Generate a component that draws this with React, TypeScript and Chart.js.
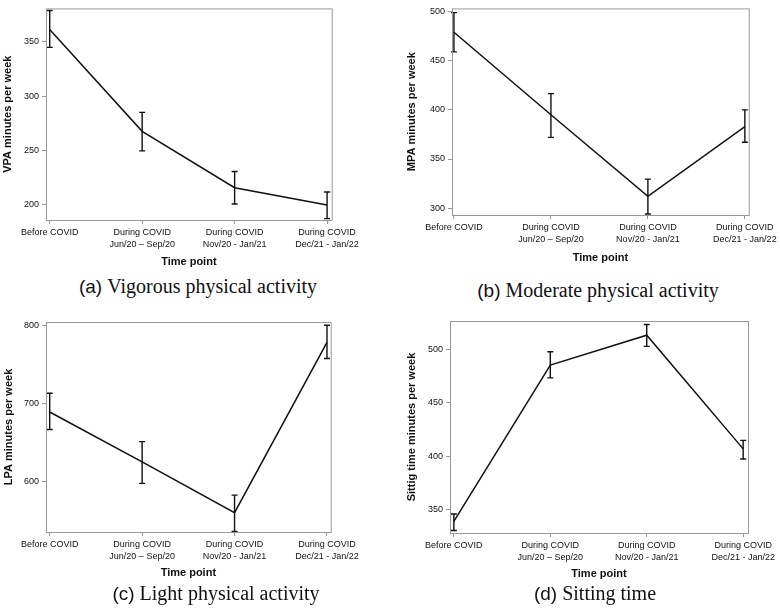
import { useEffect, useRef } from "react";
import { Chart, registerables, type ChartConfiguration, type Plugin } from "chart.js";

Chart.register(...registerables);

const timeLabels: string[][] = [
  ["Before COVID"],
  ["During COVID", "Jun/20 – Sep/20"],
  ["During COVID", "Nov/20 - Jan/21"],
  ["During COVID", "Dec/21 - Jan/22"],
];

const vpaMean = [361.5, 267.5, 215.5, 199.5];
const vpaLow = [345, 249.5, 200.5, 187];
const vpaHigh = [379, 285, 230.5, 211.5];
const vpaTicks = [200, 250, 300, 350];

const mpaMean = [479, 395, 312, 383];
const mpaLow = [459, 372, 294, 367];
const mpaHigh = [499, 416.5, 329.5, 400];
const mpaTicks = [300, 350, 400, 450, 500];

const lpaMean = [689.5, 625.5, 560.5, 778.5];
const lpaLow = [667, 598, 536.5, 758];
const lpaHigh = [713.5, 651.5, 583, 800.5];
const lpaTicks = [600, 700, 800];

const sitMean = [339, 485.5, 513.5, 407];
const sitLow = [330.5, 473.5, 503, 397.5];
const sitHigh = [346, 498, 523.5, 415];
const sitTicks = [350, 400, 450, 500];

type Box = { left: number; top: number; w: number; h: number };
type Frame = { l: number; t: number; r: number; b: number };

// draws the vertical CI bars with small caps
function errorBarPlugin(low: number[], high: number[]): Plugin {
  return {
    id: "errorBars",
    afterDatasetsDraw(chart) {
      const { ctx } = chart;
      const xs = chart.scales.x;
      const ys = chart.scales.y;
      ctx.save();
      ctx.strokeStyle = "#111";
      ctx.lineWidth = 1.4;
      low.forEach((lo, i) => {
        const x = xs.getPixelForValue(i);
        const y1 = ys.getPixelForValue(lo);
        const y2 = ys.getPixelForValue(high[i]);
        ctx.beginPath();
        ctx.moveTo(x, y1);
        ctx.lineTo(x, y2);
        ctx.moveTo(x - 3, y1);
        ctx.lineTo(x + 3, y1);
        ctx.moveTo(x - 3, y2);
        ctx.lineTo(x + 3, y2);
        ctx.stroke();
      });
      ctx.restore();
    },
  };
}

const framePlugin: Plugin = {
  id: "frame",
  afterDraw(chart) {
    const { ctx, chartArea: a } = chart;
    ctx.save();
    ctx.strokeStyle = "#999";
    ctx.lineWidth = 1;
    ctx.strokeRect(a.left + 0.5, a.top + 0.5, a.right - a.left, a.bottom - a.top);
    ctx.restore();
  },
};

function Panel({
  box,
  frame,
  xPad,
  yRange,
  yTicks,
  yTitle,
  mean,
  low,
  high,
}: {
  box: Box;
  frame: Frame;
  xPad: [number, number];
  yRange: [number, number];
  yTicks: number[];
  yTitle: string;
  mean: number[];
  low: number[];
  high: number[];
}) {
  const ref = useRef<HTMLCanvasElement>(null);

  useEffect(() => {
    const canvas = ref.current;
    if (!canvas) return;
    const tickFont = { family: "'Liberation Sans', Arial, sans-serif", size: 9 };
    const titleFont = { family: "'Liberation Sans', Arial, sans-serif", size: 11, weight: "bold" as const };
    const config: ChartConfiguration = {
      type: "line",
      data: {
        datasets: [
          {
            data: mean.map((y, i) => ({ x: i, y })),
            borderColor: "#111",
            borderWidth: 1.5,
            pointRadius: 0,
            tension: 0,
            fill: false,
          },
        ],
      },
      options: {
        responsive: false,
        animation: false,
        layout: {
          padding: {
            left: 0,
            top: frame.t - box.top,
            right: box.left + box.w - frame.r,
            bottom: 0,
          },
        },
        plugins: { legend: { display: false }, tooltip: { enabled: false } },
        scales: {
          x: {
            type: "linear",
            min: -xPad[0],
            max: 3 + xPad[1],
            afterBuildTicks: (s) => {
              s.ticks = [0, 1, 2, 3].map((v) => ({ value: v }));
            },
            afterFit: (s) => {
              s.height = box.top + box.h - frame.b;
            },
            ticks: {
              autoSkip: false,
              maxRotation: 0,
              padding: 3,
              color: "#111",
              font: { ...tickFont, lineHeight: 1.3 },
              callback: (v) => timeLabels[Number(v)] ?? "",
            },
            grid: { drawOnChartArea: false, drawTicks: true, tickLength: 4, color: "#999" },
            border: { display: false },
            title: {
              display: true,
              text: "Time point",
              color: "#111",
              font: titleFont,
              padding: { top: 2, bottom: 3 },
            },
          },
          y: {
            type: "linear",
            min: yRange[0],
            max: yRange[1],
            afterBuildTicks: (s) => {
              s.ticks = yTicks.map((v) => ({ value: v }));
            },
            afterFit: (s) => {
              s.width = frame.l - box.left;
            },
            ticks: { padding: 3, color: "#111", font: tickFont },
            grid: { drawOnChartArea: false, drawTicks: true, tickLength: 4, color: "#999" },
            border: { display: false },
            title: {
              display: true,
              text: yTitle,
              color: "#111",
              font: titleFont,
              padding: { top: 1, bottom: 0 },
            },
          },
        },
      },
      plugins: [errorBarPlugin(low, high), framePlugin],
    };
    const chart = new Chart(canvas, config);
    return () => chart.destroy();
  }, [box, frame, xPad, yRange, yTicks, yTitle, mean, low, high]);

  return (
    <canvas
      ref={ref}
      width={box.w}
      height={box.h}
      style={{ position: "absolute", left: box.left, top: box.top, width: box.w, height: box.h }}
    />
  );
}

function Caption({ tag, text, cx, top }: { tag: string; text: string; cx: number; top: number }) {
  return (
    <div
      style={{
        position: "absolute",
        left: cx - 200,
        width: 400,
        top,
        textAlign: "center",
        fontSize: 20,
        lineHeight: "20px",
        color: "#111",
        whiteSpace: "nowrap",
      }}
    >
      <span style={{ fontFamily: "'Liberation Sans', Arial, sans-serif", fontSize: 19 }}>{tag}</span>{" "}
      <span style={{ fontFamily: "'Liberation Serif', 'Times New Roman', serif" }}>{text}</span>
    </div>
  );
}

const boxA: Box = { left: 0, top: 0, w: 362, h: 272 };
const frameA: Frame = { l: 46, t: 2, r: 353, b: 220 };
const boxB: Box = { left: 404, top: 0, w: 376, h: 268 };
const frameB: Frame = { l: 452, t: 3, r: 752, b: 215 };
const boxC: Box = { left: 1, top: 305, w: 361, h: 278 };
const frameC: Frame = { l: 46, t: 322, r: 343, b: 532 };
const boxD: Box = { left: 404, top: 305, w: 376, h: 279 };
const frameD: Frame = { l: 450, t: 321, r: 748, b: 533 };

const padA: [number, number] = [0.04, 0.05];
const padB: [number, number] = [0.02, 0.04];
const padC: [number, number] = [0.04, 0.04];
const padD: [number, number] = [0.04, 0.05];

const rangeA: [number, number] = [185.7, 381];
const rangeB: [number, number] = [293, 503.3];
const rangeC: [number, number] = [535.8, 804.7];
const rangeD: [number, number] = [328.2, 526.8];

export default function App() {
  return (
    <div
      style={{
        position: "absolute",
        left: 0,
        top: 0,
        width: 780,
        height: 613,
        background: "#fff",
        overflow: "hidden",
      }}
    >
      <Panel box={boxA} frame={frameA} xPad={padA} yRange={rangeA} yTicks={vpaTicks}
        yTitle="VPA minutes per week" mean={vpaMean} low={vpaLow} high={vpaHigh} />
      <Panel box={boxB} frame={frameB} xPad={padB} yRange={rangeB} yTicks={mpaTicks}
        yTitle="MPA minutes per week" mean={mpaMean} low={mpaLow} high={mpaHigh} />
      <Panel box={boxC} frame={frameC} xPad={padC} yRange={rangeC} yTicks={lpaTicks}
        yTitle="LPA minutes per week" mean={lpaMean} low={lpaLow} high={lpaHigh} />
      <Panel box={boxD} frame={frameD} xPad={padD} yRange={rangeD} yTicks={sitTicks}
        yTitle="Sittig time minutes per week" mean={sitMean} low={sitLow} high={sitHigh} />
      <Caption tag="(a)" text="Vigorous physical activity" cx={198} top={276} />
      <Caption tag="(b)" text="Moderate physical activity" cx={598} top={280} />
      <Caption tag="(c)" text="Light physical activity" cx={216} top={583} />
      <Caption tag="(d)" text="Sitting time" cx={595} top={583} />
    </div>
  );
}
